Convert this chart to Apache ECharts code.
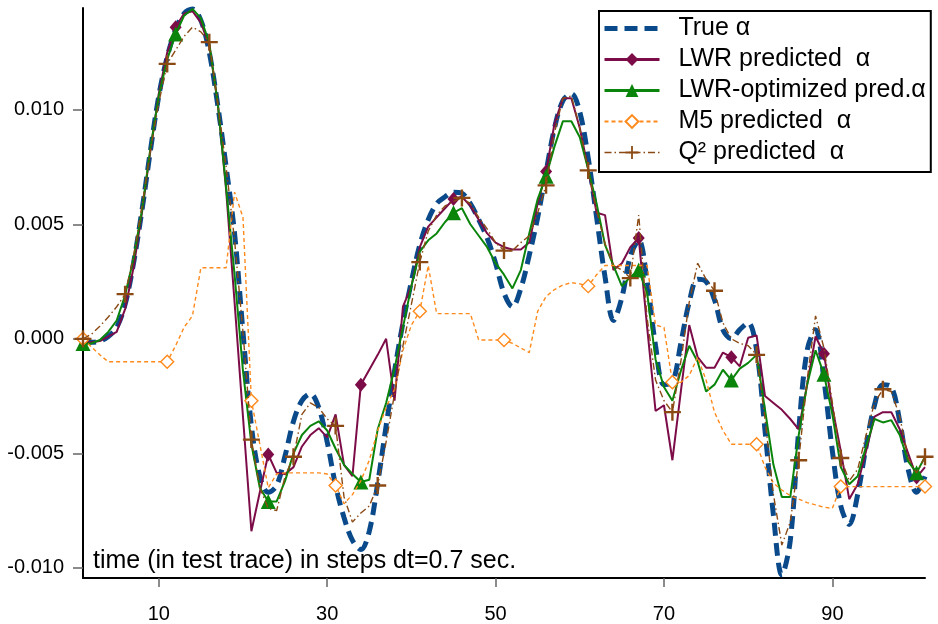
<!DOCTYPE html>
<html>
<head>
<meta charset="utf-8">
<script src="https://cdn.jsdelivr.net/npm/echarts@6/dist/echarts.min.js"></script>
<style>
  html, body { margin: 0; padding: 0; background: #fff; }
  #chart { width: 938px; height: 624px; }
</style>
</head>
<body>
<div id="chart"></div>
<script>
// time steps of the test trace
const steps = [
  1, 2, 3, 4, 5, 6, 7, 8, 9, 10, 11, 12, 13, 14, 15, 16, 17, 18, 19, 20,
  21, 22, 23, 24, 25, 26, 27, 28, 29, 30, 31, 32, 33, 34, 35, 36, 37, 38, 39, 40,
  41, 42, 43, 44, 45, 46, 47, 48, 49, 50, 51, 52, 53, 54, 55, 56, 57, 58, 59, 60,
  61, 62, 63, 64, 65, 66, 67, 68, 69, 70, 71, 72, 73, 74, 75, 76, 77, 78, 79, 80,
  81, 82, 83, 84, 85, 86, 87, 88, 89, 90, 91, 92, 93, 94, 95, 96, 97, 98, 99, 100, 101
]

// values below are in units of 1e-3
const trueAlpha = [
  -0.15, -0.15, -0.1, 0.1, 0.5, 1.5, 3.3, 5.6, 8.2, 10.6,
  12.3, 13.5, 14.2, 14.4, 13.9, 12.5, 10.2, 7.5, 4.6, 0.3,
  -3.8, -6.0, -6.7, -6.4, -5.1, -3.6, -2.7, -2.4, -3.0, -4.5,
  -6.4, -7.8, -8.8, -9.2, -8.4, -6.3, -3.8, -1.4, 0.7, 2.5,
  4.1, 5.2, 5.9, 6.2, 6.4, 6.35, 5.9, 5.2, 4.4, 3.3,
  2.0, 1.4, 2.2, 3.65, 5.3, 7.3, 9.2, 10.4, 10.7, 9.9,
  7.9, 5.3, 2.7, 0.8, 1.8, 3.6, 4.3, 2.5, -0.3, -2.0,
  -1.9, -0.2, 1.6, 2.6, 2.5, 1.7, 0.4, 0.0, 0.4, 0.7,
  -0.5, -4.0, -7.7, -10.3, -8.8, -4.0, -0.5, 0.4, -1.8, -4.9,
  -7.3, -8.1, -6.8, -4.7, -2.9, -2.0, -2.1, -3.6, -5.7, -6.7,
  -6.0
]

const lwrAlpha = [
  -0.15, -0.15, -0.1, 0.1, 0.3, 1.3, 3.1, 5.5, 8.2, 10.7,
  12.5, 13.6, 14.2, 14.3, 13.8, 12.8, 10.3, 6.5, 1.6, -3.4,
  -8.4, -6.7, -5.05, -5.85, -5.9, -5.6, -4.7, -4.2, -3.9, -4.3,
  -3.3, -5.5, -6.0, -2.0, -1.35, -0.7, 0.0, -2.7, 1.4, 2.3,
  4.0, 4.9, 5.3, 5.7, 6.1, 6.2, 5.8, 5.2, 4.6, 4.2,
  4.0, 3.9, 3.9, 4.2, 5.9, 7.3, 9.4, 10.5, 10.5, 9.2,
  7.4, 5.5, 5.4, 3.0, 3.3, 4.0, 4.4, 0.5, -3.15, -2.9,
  -5.3, -2.3, 0.6, -0.8, -1.26, -1.26, -0.6, -0.8, -1.2, 0.05,
  0.15, -2.5, -2.8, -3.1, -3.5, -3.95, -2.0, 0.1, -0.65, -3.0,
  -4.9, -7.0, -6.35, -4.9, -3.4, -3.2, -3.2, -3.95, -5.0, -6.05,
  -5.6
]

const lwrOptAlpha = [
  -0.2, -0.2, -0.05, 0.3, 0.8, 1.9, 3.5, 5.6, 8.3, 10.6,
  12.2, 13.3, 14.1, 14.4, 14.0, 12.9, 10.3, 6.6, 2.8, -1.4,
  -4.6, -6.5, -7.1, -7.1, -6.2, -5.0, -4.2, -3.8, -3.6, -4.0,
  -4.8, -5.5, -5.9, -6.25, -6.15, -3.95, -2.8, -1.3, 0.5, 2.3,
  3.8, 4.3, 4.6, 5.1, 5.5, 5.7, 5.0, 4.5, 4.0, 3.3,
  2.8, 2.2, 3.0, 4.6, 6.1, 7.1, 8.4, 9.5, 9.5, 8.8,
  7.4, 5.9, 4.1, 3.2, 2.3, 2.7, 3.0, 2.0, -0.9, -2.1,
  -2.7, -1.4, -0.3, -1.0, -2.3, -2.0, -1.35, -1.8, -1.3, -1.05,
  -0.7, -3.1, -5.5, -6.9, -6.9, -4.2, -2.0, -0.5, -1.55, -3.3,
  -5.6, -6.35, -6.0, -4.7, -3.5, -3.65, -3.55, -4.2, -5.35, -5.85,
  -5.15
]

const m5Alpha = [
  0.0, -0.35, -0.7, -1.0, -1.0, -1.0, -1.0, -1.0, -1.0, -1.0,
  -1.0, -0.3, 0.5, 1.0, 3.1, 3.1, 3.1, 3.1, 6.4, 5.3,
  -2.7, -4.6, -6.5, -5.9, -5.85, -5.85, -5.85, -5.85, -5.85, -5.9,
  -6.4, -7.2, -6.8, -6.2, -5.3, -4.0, -3.0, -2.2, -0.5, 0.6,
  1.2, 3.2, 1.1, 1.1, 1.1, 1.1, 1.1, -0.05, -0.05, -0.05,
  -0.05, -0.2, -0.4, -0.6, 1.2, 1.85, 2.15, 2.35, 2.45, 2.4,
  2.3, 2.8, 3.2, 3.2, 3.2, 3.2, 3.2, 3.2, 0.6, 0.5,
  -1.9, -1.9, -1.6, -0.8, -1.8, -3.2, -4.0, -4.6, -4.6, -4.6,
  -4.6, -5.6, -6.3, -6.6, -6.85, -7.0, -7.15, -7.25, -7.35, -7.4,
  -6.45, -6.45, -6.45, -6.45, -6.45, -6.45, -6.45, -6.45, -6.45, -6.45,
  -6.45
]

const q2Alpha = [
  0.0, 0.2, 0.55, 0.95, 1.4, 1.95, 3.6, 5.8, 8.2, 10.3,
  12.0, 12.6, 13.2, 13.6, 13.4, 12.95, 10.3, 7.5, 4.3, 0.3,
  -4.4, -6.5, -7.4, -7.5, -6.0, -5.15, -3.3, -2.8, -3.0, -3.5,
  -3.8, -6.9, -8.0, -7.6, -7.3, -6.4, -4.5, -2.4, -0.3, 1.5,
  3.35, 4.7, 5.4, 5.8, 6.0, 6.15, 5.9, 5.3, 4.8, 4.2,
  3.85, 3.85, 4.2, 4.5, 5.5, 6.7, 9.0, 10.5, 10.6, 9.2,
  7.35, 5.6, 4.15, 3.2, 3.0, 2.65, 5.4, 0.9, -1.8, -2.7,
  -3.2, -1.0, 1.6, 3.3, 2.6, 2.1, 0.7, 0.0, -0.2, -0.3,
  -0.7, -3.5, -6.8, -9.0, -8.0, -5.3, -1.8, 1.0, -0.4, -2.8,
  -5.2, -6.2, -5.7, -4.2, -2.8, -2.2, -2.3, -3.4, -5.2, -5.85,
  -5.15
]

const yTicks = [ -0.010, -0.005, 0.000, 0.005, 0.010 ]
const xTicks = [ 10, 30, 50, 70, 90 ]

const SCALE = 0.001
const FONT = 'Liberation Sans, Arial, sans-serif'

const pairs = vals => steps.map( ( t, i ) => [ t, vals[ i ] * SCALE ] )

// markers only on every n-th sample, starting at index `from`
const markEvery = ( n, from, size ) => ( val, p ) => ( p.dataIndex >= from && ( p.dataIndex - from ) % n === 0 ) ? size : 0

const plus = 'path://M8.6,0h2.8v8.6h8.6v2.8h-8.6v8.6h-2.8v-8.6h-8.6v-2.8h8.6z'

const chart = echarts.init( document.getElementById( 'chart' ) )

chart.setOption( {
  animation : false,
  grid : { left : 83, right : 13, top : 8, bottom : 45 },
  legend : {
    orient : 'vertical',
    left : 599,
    top : 11,
    itemWidth : 55,
    itemHeight : 16,
    itemGap : 6,
    padding : [ 5, 5, 7, 3 ],
    backgroundColor : '#fff',
    borderColor : '#000',
    borderWidth : 2,
    selectedMode : false,
    formatter : name => '  ' + name,
    textStyle : { fontSize : 25, lineHeight : 25, color : '#000', fontFamily : FONT },
    data : [
      { name : 'True α', lineStyle : { width : 5, type : [ 13, 7 ] }},
      { name : 'LWR predicted  α', lineStyle : { width : 3 }},
      { name : 'LWR-optimized pred.α', lineStyle : { width : 3 }},
      { name : 'M5 predicted  α' },
      { name : 'Q² predicted  α', lineStyle : { width : 1.6 }}
    ]
  },
  xAxis : {
    type : 'value',
    min : 1,
    max : 101,
    axisLine : { show : true, onZero : false, lineStyle : { color : '#000', width : 2 }},
    axisTick : { show : true, customValues : xTicks, length : 9, lineStyle : { color : '#666', width : 1.5 }},
    axisLabel : { customValues : xTicks, fontSize : 20, color : '#000', margin : 26, fontFamily : FONT },
    splitLine : { show : false }
  },
  yAxis : {
    type : 'value',
    min : -0.01044,
    max : 0.01444,
    axisLine : { show : true, onZero : false, lineStyle : { color : '#000', width : 2 }},
    axisTick : { show : true, customValues : yTicks, length : 10, lineStyle : { color : '#666', width : 1.5 }},
    axisLabel : {
      customValues : yTicks,
      fontSize : 20,
      color : '#000',
      margin : 19,
      fontFamily : FONT,
      formatter : v => v.toFixed( 3 )
    },
    splitLine : { show : false }
  },
  graphic : [
    {
      type : 'text',
      x : 93,
      y : 561,
      style : {
        text : 'time (in test trace) in steps dt=0.7 sec.',
        font : '25px Liberation Sans, Arial, sans-serif',
        fill : '#000',
        verticalAlign : 'middle'
      }
    }
  ],
  series : [
    {
      name : 'True α',
      type : 'line',
      data : pairs( trueAlpha ),
      smooth : 0.35,
      symbol : 'circle',
      showSymbol : false,
      z : 2,
      lineStyle : { color : '#0a4a8a', width : 5, type : [ 13, 7 ], cap : 'butt' },
      itemStyle : { color : 'rgba(0,0,0,0)' }
    },
    {
      name : 'LWR predicted  α',
      type : 'line',
      data : pairs( lwrAlpha ),
      symbol : 'diamond',
      symbolSize : markEvery( 11, 11, [ 12, 14 ] ),
      showAllSymbol : true,
      z : 3,
      lineStyle : { color : '#7c0c48', width : 2 },
      itemStyle : { color : '#7c0c48' }
    },
    {
      name : 'LWR-optimized pred.α',
      type : 'line',
      data : pairs( lwrOptAlpha ),
      symbol : 'triangle',
      symbolSize : markEvery( 11, 0, 15 ),
      showAllSymbol : true,
      z : 4,
      lineStyle : { color : '#0a840a', width : 2 },
      itemStyle : { color : '#0a840a' }
    },
    {
      name : 'M5 predicted  α',
      type : 'line',
      data : pairs( m5Alpha ),
      symbol : 'diamond',
      symbolSize : markEvery( 10, 0, 13 ),
      showAllSymbol : true,
      z : 5,
      lineStyle : { color : '#ff8a1c', width : 1.4, type : [ 4, 3 ] },
      itemStyle : { color : '#fff', borderColor : '#ff8a1c', borderWidth : 1.4 }
    },
    {
      name : 'Q² predicted  α',
      type : 'line',
      data : pairs( q2Alpha ),
      symbol : plus,
      symbolSize : markEvery( 5, 0, 17 ),
      showAllSymbol : true,
      z : 6,
      lineStyle : { color : '#8b4a14', width : 1.4, type : [ 7, 3, 1.5, 3 ] },
      itemStyle : { color : '#8b4a14' }
    }
  ]
} )
</script>
</body>
</html>
